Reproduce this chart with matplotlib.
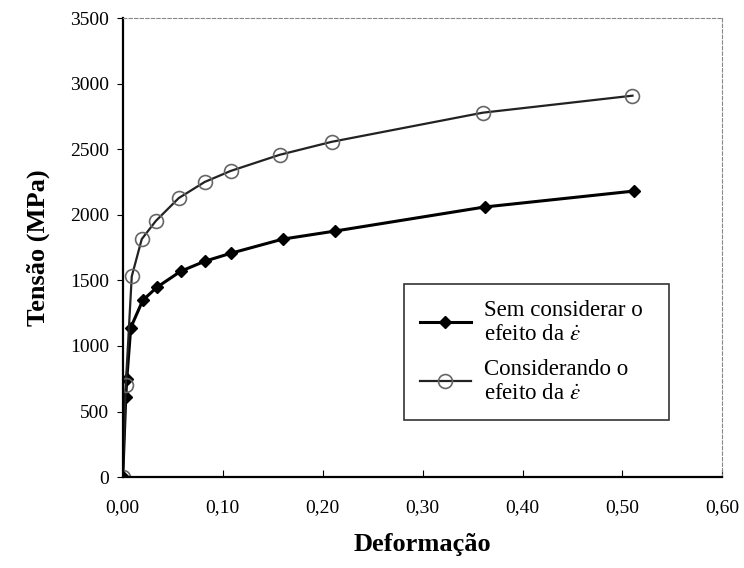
import numpy as np
import matplotlib
matplotlib.use("Agg")
import matplotlib.pyplot as plt

plt.rcParams['font.family'] = ['Liberation Serif', 'DejaVu Serif']
plt.rcParams['mathtext.fontset'] = 'stix'

# strain values
x_sem = [0.0, 0.003, 0.004, 0.008, 0.02, 0.034, 0.058, 0.082, 0.108, 0.16, 0.212, 0.362, 0.512]
y_sem = [0, 610, 745, 1140, 1348, 1447, 1570, 1646, 1707, 1815, 1876, 2060, 2182]

x_com = [0.0, 0.003, 0.009, 0.019, 0.033, 0.056, 0.082, 0.108, 0.157, 0.209, 0.36, 0.51]
y_com = [0, 700, 1531, 1815, 1953, 2128, 2251, 2335, 2458, 2557, 2779, 2909]

xticks = [0.0, 0.1, 0.2, 0.3, 0.4, 0.5, 0.6]
xticklabels = ['0,00', '0,10', '0,20', '0,30', '0,40', '0,50', '0,60']
yticks = [0, 500, 1000, 1500, 2000, 2500, 3000, 3500]

fig = plt.figure(figsize=(7.44, 5.68), dpi=100)
ax = fig.add_axes([0.165, 0.16, 0.806, 0.808])

ax.plot(x_sem, y_sem, color='black', lw=2.2, marker='D', ms=6,
        mfc='black', mec='black', label='Sem considerar o\nefeito da $\\dot{\\varepsilon}$')
ax.plot(x_com, y_com, color='#222222', lw=1.6, marker='o', ms=10,
        mfc='none', mec='#666666', mew=1.2,
        label='Considerando o\nefeito da $\\dot{\\varepsilon}$')

ax.set_xlim(0, 0.6)
ax.set_ylim(0, 3500)
ax.set_xticks(xticks)
ax.set_xticklabels(xticklabels)
ax.set_yticks(yticks)
ax.tick_params(axis='x', direction='in', length=5, labelsize=14, pad=16)
ax.tick_params(axis='y', direction='out', length=4, labelsize=14, pad=6)

for s in ['top', 'right']:
    ax.spines[s].set_linestyle((0, (3, 2)))
    ax.spines[s].set_color('#888888')
    ax.spines[s].set_linewidth(0.8)
for s in ['left', 'bottom']:
    ax.spines[s].set_linewidth(1.6)

ax.set_xlabel('Deformação', fontsize=19, fontweight='bold', labelpad=12)
ax.set_ylabel('Tensão (MPa)', fontsize=19, fontweight='bold', labelpad=14)

leg = ax.legend(loc='lower left', bbox_to_anchor=(0.45, 0.1, 0.48, 0.34),
                mode='expand', fontsize=16.5, frameon=True, fancybox=False,
                edgecolor='black', handlelength=2.2, labelspacing=0.6,
                borderpad=0.7, handletextpad=0.6)
leg.get_frame().set_linewidth(1.2)

fig.savefig('out.png', dpi=100)
